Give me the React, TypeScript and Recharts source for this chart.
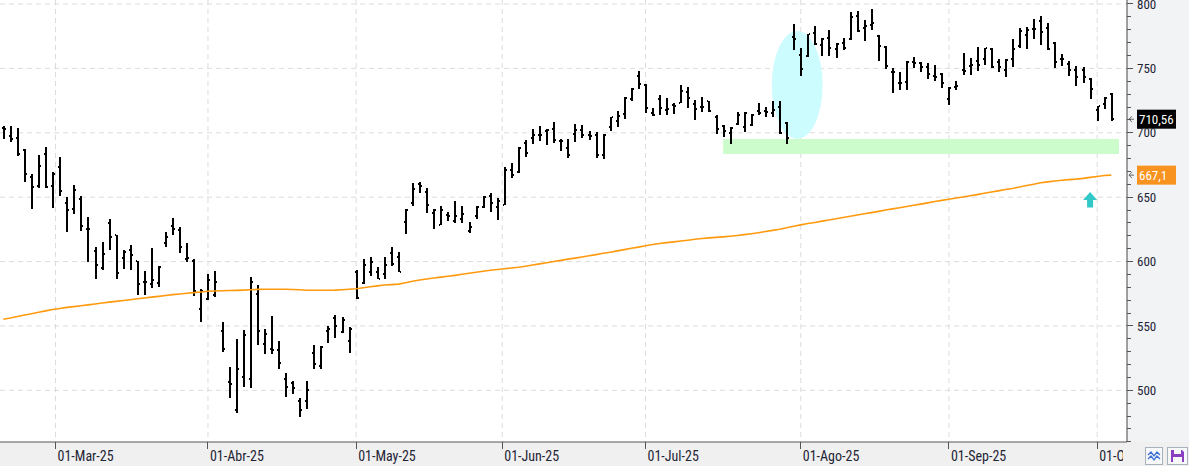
import {
  ComposedChart,
  Bar,
  Line,
  XAxis,
  YAxis,
  CartesianGrid,
  ReferenceArea,
  ReferenceDot,
  ReferenceLine,
} from "recharts"

// month starts, as positions on the trading-day index (weekend starts fall between bars)
const monthTicks = [7.4, 29, 50, 70.7, 91, 113, 134, 155]
const monthLabels = [
  "01-Mar-25",
  "01-Abr-25",
  "01-May-25",
  "01-Jun-25",
  "01-Jul-25",
  "01-Ago-25",
  "01-Sep-25",
  "01-Oct-25",
]

const priceTicks = [
  460, 470, 480, 490, 500, 510, 520, 530, 540, 550, 560, 570, 580, 590, 600, 610, 620, 630, 640, 650,
  660, 670, 680, 690, 700, 710, 720, 730, 740, 750, 760, 770, 780, 790, 800,
]
const gridPrices = [500, 550, 600, 650, 700, 750, 800]

const opens = [
  703.7, 697.5, 696.0, 686.6, 665.7, 658.7, 683.5, 658.7, 673.4, 645.5,
  640.8, 648.6, 625.3, 608.2, 595.0, 630.0, 620.6, 602.8, 609.0, 600.5,
  584.2, 582.6, 583.4, 614.4, 627.6, 624.5, 602.0, 600.5, 563.2, 571.0,
  574.1, 546.1, 506.5, 484.8, 510.4, 508.8, 574.8, 536.0, 532.1, 531.4,
  508.8, 505.7, 491.8, 491.8, 529.0, 518.9, 546.1, 556.2, 545.3, 538.4,
  591.9, 583.4, 591.9, 591.9, 590.4, 606.7, 603.6, 630.7, 645.5, 660.2,
  654.0, 637.7, 628.4, 636.2, 631.5, 633.1, 623.8, 635.4, 642.4, 650.9,
  642.4, 643.9, 671.1, 669.6, 692.1, 696.0, 698.3, 701.4, 702.9, 693.6,
  688.2, 699.1, 702.2, 698.3, 698.3, 682.8, 704.5, 709.2, 714.6, 726.2,
  744.1, 737.1, 715.4, 726.2, 717.7, 721.6, 723.1, 731.7, 722.4, 720.0,
  724.7, 712.3, 705.3, 699.8, 706.8, 704.5, 706.1, 716.9, 716.9, 715.4,
  720.0, 707.6, 774.4, 760.4, 759.6, 777.5, 768.2, 773.6, 765.1, 769.7,
  772.8, 790.7, 781.4, 783.7, 775.1, 766.6, 747.2, 738.7, 739.4, 755.0,
  754.2, 751.1, 744.1, 745.6, 726.2, 735.6, 748.8, 751.9, 755.7, 757.3,
  765.1, 755.0, 748.8, 757.3, 767.4, 775.9, 780.6, 786.8, 781.4, 769.7,
  757.3, 753.4, 748.8, 748.8, 741.8, 717.7, 722.4, 730.1,
]

const highs = [
  705.3, 705.3, 703.7, 687.4, 668.0, 682.8, 689.0, 669.6, 681.2, 650.2,
  659.5, 650.9, 634.6, 611.3, 615.2, 633.1, 620.6, 609.0, 612.9, 600.5,
  592.7, 610.6, 596.6, 623.0, 633.8, 626.9, 614.4, 602.0, 578.7, 590.4,
  592.7, 553.1, 518.2, 539.9, 546.9, 588.0, 581.8, 547.7, 557.8, 538.4,
  513.5, 507.3, 494.1, 507.3, 535.2, 534.5, 550.0, 558.5, 557.0, 549.2,
  593.5, 602.0, 603.6, 595.8, 603.6, 611.3, 607.4, 640.8, 661.0, 661.8,
  657.1, 640.8, 643.2, 638.5, 647.0, 643.2, 630.7, 643.2, 650.9, 653.3,
  649.4, 673.4, 676.5, 689.0, 694.4, 702.9, 705.3, 702.9, 708.4, 695.2,
  695.2, 706.8, 706.1, 701.4, 700.6, 699.1, 712.3, 716.9, 727.8, 734.8,
  748.0, 737.9, 719.3, 729.3, 727.0, 723.1, 737.1, 735.6, 725.5, 727.8,
  724.7, 713.8, 706.1, 704.5, 716.1, 716.1, 714.6, 723.1, 720.0, 724.7,
  724.7, 708.4, 784.5, 765.8, 776.7, 782.9, 773.6, 779.8, 769.7, 773.6,
  793.8, 794.6, 787.6, 796.1, 775.9, 767.4, 750.3, 747.2, 755.7, 758.8,
  755.0, 754.2, 752.6, 746.4, 735.6, 740.2, 762.0, 758.1, 766.6, 765.8,
  765.8, 757.3, 757.3, 772.8, 781.4, 782.1, 788.4, 790.7, 785.2, 770.5,
  761.2, 755.7, 751.9, 751.1, 742.5, 720.8, 727.8, 730.9,
]

const lows = [
  695.2, 692.9, 682.0, 661.8, 640.8, 657.1, 657.1, 641.6, 650.9, 623.0,
  637.0, 623.8, 599.7, 586.5, 593.5, 609.0, 586.5, 594.2, 593.5, 574.1,
  574.1, 579.5, 580.3, 611.3, 620.6, 606.7, 599.7, 573.3, 553.1, 570.2,
  572.5, 529.8, 494.1, 482.5, 502.6, 501.9, 535.2, 528.3, 528.3, 516.6,
  494.9, 497.2, 479.3, 485.6, 516.6, 516.6, 536.8, 540.7, 544.6, 529.0,
  571.0, 582.6, 588.8, 586.5, 586.5, 596.6, 591.9, 621.4, 643.2, 653.3,
  637.7, 625.3, 628.4, 631.5, 630.0, 630.0, 622.2, 633.1, 641.6, 638.5,
  632.3, 643.9, 664.9, 668.8, 681.2, 691.3, 693.6, 690.5, 692.1, 685.9,
  680.4, 692.9, 696.0, 694.4, 680.4, 679.7, 701.4, 704.5, 710.7, 724.7,
  734.0, 715.4, 713.0, 713.8, 713.8, 714.6, 723.1, 719.3, 709.9, 716.1,
  716.1, 699.1, 696.7, 691.3, 706.1, 700.6, 705.3, 713.8, 712.3, 712.3,
  699.1, 691.3, 764.3, 744.1, 758.8, 768.2, 759.6, 759.6, 758.1, 764.3,
  772.0, 778.3, 771.3, 779.8, 755.7, 749.5, 730.9, 733.2, 733.2, 750.3,
  747.2, 741.8, 740.2, 734.8, 721.6, 733.2, 744.9, 744.9, 748.0, 752.6,
  750.3, 747.2, 743.3, 751.1, 765.8, 765.1, 772.8, 768.2, 764.3, 750.3,
  751.9, 744.1, 736.3, 738.7, 726.2, 709.2, 718.5, 709.2,
]

const closes = [
  703.2, 695.2, 683.5, 668.0, 657.9, 674.2, 657.9, 668.0, 654.8, 640.1,
  655.6, 627.6, 625.3, 597.4, 605.9, 619.1, 591.1, 607.4, 605.1, 582.6,
  584.2, 585.7, 595.8, 619.1, 625.3, 611.3, 602.8, 577.2, 577.2, 585.7,
  584.2, 532.1, 505.0, 516.6, 543.0, 584.2, 546.1, 543.8, 531.4, 521.3,
  502.6, 501.9, 484.8, 500.3, 520.5, 533.7, 547.7, 550.0, 554.7, 547.7,
  571.7, 597.4, 599.7, 586.5, 597.4, 598.1, 591.9, 640.1, 656.4, 658.7,
  643.9, 640.1, 640.1, 635.4, 635.4, 637.0, 626.9, 642.4, 650.2, 645.5,
  647.0, 671.1, 667.2, 688.2, 684.3, 698.3, 698.3, 702.2, 694.4, 693.6,
  682.8, 702.2, 698.3, 697.5, 682.8, 698.3, 712.3, 713.0, 727.0, 734.0,
  737.9, 719.3, 713.8, 719.3, 718.5, 720.8, 732.4, 727.0, 718.5, 720.0,
  716.9, 702.9, 701.4, 703.7, 713.8, 715.4, 713.8, 715.4, 716.1, 717.7,
  699.8, 696.0, 772.8, 749.5, 776.7, 768.9, 772.8, 765.8, 768.9, 765.8,
  789.9, 779.0, 782.9, 785.2, 767.4, 751.9, 747.2, 738.7, 755.0, 754.2,
  751.1, 745.6, 743.3, 738.7, 734.8, 736.3, 748.0, 752.6, 752.6, 765.8,
  751.1, 751.1, 756.5, 765.1, 779.0, 779.8, 780.6, 778.3, 765.1, 755.0,
  757.3, 748.8, 743.3, 743.3, 734.0, 720.8, 727.0, 710.56,
]

// 200-session moving average
const ma200 = [
  555.2, 556.2, 557.4, 558.5, 559.5, 560.6, 561.7, 562.8, 563.6, 564.4,
  565.0, 565.7, 566.4, 567.1, 567.8, 568.5, 569.1, 569.8, 570.4, 571.1,
  571.7, 572.4, 573.0, 573.7, 574.3, 574.8, 575.4, 575.9, 576.4, 576.9,
  577.2, 577.3, 577.5, 577.6, 577.8, 578.1, 578.4, 578.5, 578.5, 578.5,
  578.5, 578.3, 578.1, 577.7, 577.7, 577.7, 577.7, 577.8, 578.1, 578.5,
  578.9, 579.7, 580.4, 581.1, 581.8, 582.1, 582.5, 583.6, 584.7, 585.7,
  586.5, 587.2, 587.9, 588.6, 589.3, 590.1, 590.9, 591.7, 592.5, 593.2,
  593.9, 594.4, 595.0, 595.6, 596.4, 597.3, 598.2, 599.1, 600.1, 600.9,
  601.9, 602.7, 603.6, 604.5, 605.4, 606.4, 607.3, 608.3, 609.3, 610.3,
  611.2, 612.3, 613.2, 614.0, 614.7, 615.3, 616.0, 616.6, 617.3, 617.9,
  618.4, 618.8, 619.2, 619.7, 620.3, 620.9, 621.6, 622.4, 623.3, 624.2,
  625.1, 626.2, 627.4, 628.5, 629.5, 630.4, 631.4, 632.3, 633.3, 634.2,
  635.2, 636.2, 637.1, 638.0, 639.0, 640.0, 640.9, 641.8, 642.8, 643.7,
  644.6, 645.6, 646.6, 647.5, 648.4, 649.3, 650.2, 651.1, 652.0, 653.0,
  654.0, 654.9, 655.9, 656.8, 657.9, 659.0, 660.1, 661.2, 661.9, 662.6,
  663.1, 663.6, 664.0, 664.6, 665.4, 666.1, 666.8, 667.1,
]

const data = closes.map((c, i) => ({
  idx: i,
  open: opens[i],
  high: highs[i],
  low: lows[i],
  close: c,
  ma: ma200[i],
}))

const lastClose = closes[closes.length - 1]
const lastMa = ma200[ma200.length - 1]
const fmt = (v: number) => String(v).replace(".", ",")

const W = 1189
const H = 466
const AXIS_W = 62
const AXIS_H = 24
const narrow = "'Liberation Sans Narrow', 'Arial Narrow', 'Roboto Condensed', Roboto, sans-serif"
const textColor = "#1f2535"

function OhlcBar(props: any) {
  const { x, y, width, height, payload } = props
  const cx = Math.round(x + width / 2)
  const span = payload.high - payload.low || 1
  const at = (v: number) => Math.round(y + ((payload.high - v) / span) * height)
  const yo = at(payload.open)
  const yc = at(payload.close)
  return (
    <g shapeRendering="crispEdges" fill="#000">
      <rect x={cx - 1} y={Math.round(y)} width={2} height={Math.max(Math.round(height), 1)} />
      <rect x={cx - 2} y={yo - 1} width={1} height={2} />
      <rect x={cx + 1} y={yc - 1} width={1} height={2} />
    </g>
  )
}

function MonthTick(props: any) {
  const { x, y, index } = props
  const id = `xclip-${index}`
  return (
    <g>
      <defs>
        <clipPath id={id}>
          <rect x={0} y={0} width={1123} height={H} />
        </clipPath>
      </defs>
      <line x1={x} y1={y} x2={x} y2={y + 7} stroke="#555" shapeRendering="crispEdges" />
      <text
        x={x + 2}
        y={y + 19}
        fontSize={14}
        fontFamily={narrow}
        fill={textColor}
        clipPath={`url(#${id})`}
      >
        {monthLabels[index]}
      </text>
    </g>
  )
}

function PriceTick(props: any) {
  const { x, y, payload } = props
  const major = payload.value % 50 === 0
  return (
    <g>
      <line
        x1={x}
        y1={y}
        x2={x + (major ? 6 : 4)}
        y2={y}
        stroke="#555"
        shapeRendering="crispEdges"
      />
      {major && (
        <text x={x + 10} y={y} dy="0.36em" fontSize={13} fontFamily={narrow} fill={textColor}>
          {payload.value}
        </text>
      )}
    </g>
  )
}

function PriceTag(props: any) {
  const { viewBox, text, bg } = props
  if (!viewBox) return null
  const ax = viewBox.x + viewBox.width
  const cy = viewBox.y
  return (
    <g>
      <path
        d={`M${ax + 7},${cy} L${ax + 2},${cy} M${ax + 5},${cy - 3} L${ax + 2},${cy} L${ax + 5},${cy + 3}`}
        stroke="#666"
        fill="none"
      />
      <rect x={ax + 10} y={cy - 9.5} width={39} height={19} fill={bg} />
      <text x={ax + 12} y={cy} dy="0.36em" fontSize={13} fontFamily={narrow} fill="#fff">
        {text}
      </text>
    </g>
  )
}

function Oval(props: any) {
  const { x, y, width, height } = props
  return (
    <ellipse cx={x + width / 2} cy={y + height / 2} rx={width / 2} ry={height / 2} fill="#cdfcff" />
  )
}

function UpArrow(props: any) {
  const { cx, cy } = props
  const pts = [
    [cx, cy - 7.5],
    [cx - 7, cy + 0.5],
    [cx - 3, cy + 0.5],
    [cx - 3, cy + 8],
    [cx + 3, cy + 8],
    [cx + 3, cy + 0.5],
    [cx + 7, cy + 0.5],
  ]
  return <polygon points={pts.map((p) => p.join(",")).join(" ")} fill="#33c8c8" />
}

export default function App() {
  return (
    <div
      style={{
        position: "absolute",
        left: 0,
        top: 0,
        width: W,
        height: H,
        background: "#fff",
        overflow: "hidden",
      }}
    >
      <div
        style={{
          position: "absolute",
          left: W - AXIS_W,
          top: 0,
          width: AXIS_W,
          height: H,
          background: "#f2f3f5",
        }}
      />
      <div
        style={{
          position: "absolute",
          left: 0,
          top: H - AXIS_H,
          width: W,
          height: AXIS_H,
          background: "#f0f0f0",
        }}
      />
      <div style={{ position: "absolute", left: 0, top: 0 }}>
        <ComposedChart
          width={W}
          height={H}
          data={data}
          margin={{ top: 0, right: 0, bottom: 0, left: 0 }}
        >
          <CartesianGrid
            stroke="#dcdcdc"
            strokeDasharray="5 4"
            horizontalValues={gridPrices}
            verticalValues={monthTicks}
          />
          <XAxis
            dataKey="idx"
            type="number"
            domain={[-0.468, 159.23]}
            allowDataOverflow
            ticks={monthTicks}
            interval={0}
            height={AXIS_H}
            tickSize={0}
            tickMargin={0}
            tickLine={false}
            axisLine={{ stroke: "#555" }}
            tick={<MonthTick />}
          />
          <YAxis
            orientation="right"
            type="number"
            domain={[459.9, 803.1]}
            allowDataOverflow
            ticks={priceTicks}
            interval={0}
            width={AXIS_W}
            tickSize={0}
            tickMargin={0}
            tickLine={false}
            axisLine={{ stroke: "#444" }}
            tick={<PriceTick />}
          />
          <ReferenceArea
            x1={108.9}
            x2={116.1}
            y1={695.2}
            y2={779.0}
            shape={<Oval />}
            ifOverflow="visible"
          />
          <ReferenceArea
            x1={102}
            x2={158.1}
            y1={683.5}
            y2={695.2}
            fill="#ccfccc"
            fillOpacity={1}
            stroke="none"
          />
          <Bar
            dataKey={(d: any) => [d.low, d.high]}
            barSize={6}
            shape={<OhlcBar />}
            isAnimationActive={false}
          />
          <Line
            dataKey="ma"
            type="linear"
            stroke="#ff9a0e"
            strokeWidth={1.6}
            dot={false}
            activeDot={false}
            isAnimationActive={false}
          />
          <ReferenceDot x={154} y={648.2} r={0} shape={<UpArrow />} />
          <ReferenceLine
            y={lastClose}
            stroke="none"
            label={<PriceTag text={fmt(lastClose)} bg="#000" />}
          />
          <ReferenceLine
            y={lastMa}
            stroke="none"
            label={<PriceTag text={fmt(lastMa)} bg="#f7931e" />}
          />
        </ComposedChart>
      </div>
      <svg
        style={{ position: "absolute", left: 1145, top: 447 }}
        width={44}
        height={19}
      >
        <rect x={0.5} y={0.5} width={17} height={17} fill="#f7f8fa" stroke="#a8b0bc" />
        <path d="M3,8 L6,5 L9,9 L12,5 L15,8" stroke="#3b6fd6" strokeWidth={1.3} fill="none" />
        <path d="M3,12 L6,9 L9,13 L12,9 L15,12" stroke="#3b6fd6" strokeWidth={1.3} fill="none" />
        <rect x={22.5} y={0.5} width={20} height={17} fill="#f7f8fa" stroke="#a8b0bc" />
        <path d="M26,3 L37,3 L39,5 L39,15 L26,15 Z" fill="#8a3fc0" />
        <rect x={29} y={3} width={7} height={4} fill="#f7f8fa" />
        <rect x={28} y={10} width={9} height={5} fill="#f7f8fa" />
      </svg>
    </div>
  )
}
